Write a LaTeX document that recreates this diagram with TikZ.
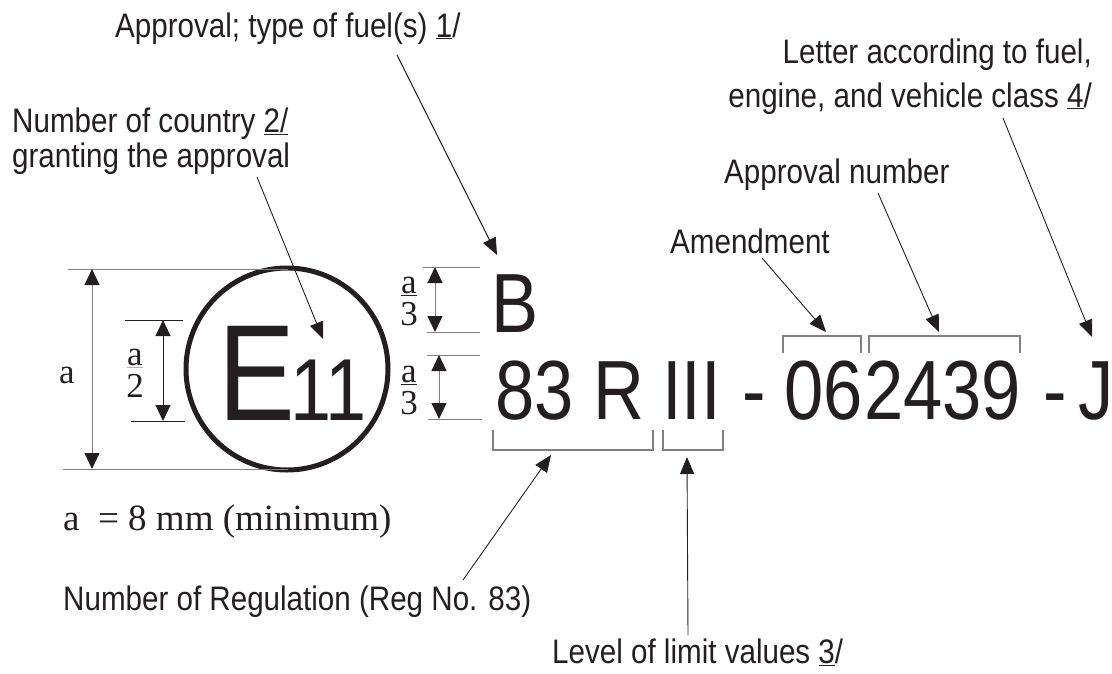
\documentclass[tikz,border=0pt]{standalone}
\usepackage{fontspec}
\usepackage{xcolor}
\setmainfont{Liberation Sans}[FakeStretch=0.87]
\newfontfamily\markfont{Liberation Sans}[FakeStretch=0.84]
\newfontfamily\dimfont{Liberation Serif}
\usetikzlibrary{arrows.meta}

\definecolor{ink}{HTML}{231F20}
\definecolor{rulegray}{HTML}{808080}
\newcommand{\lblfont}{\fontsize{34}{35}\selectfont}
\newcommand{\dimfrac}[2]{\begin{tabular}{@{}c@{}}#1\\#2\end{tabular}}

\begin{document}
\begin{tikzpicture}[x=1pt, y=-1pt,
	lbl/.style={inner sep=0pt, text=ink, font=\lblfont, anchor=base west},
	big/.style={inner sep=0pt, text=ink, font=\markfont\fontsize{84}{84}\selectfont, anchor=base west},
	dimtext/.style={inner sep=0pt, text=ink, font=\dimfont\fontsize{35}{32}\selectfont},
	leader/.style={draw=ink, line width=0.9pt, -{Triangle[length=17pt,width=14pt]}},
	dimline/.style={draw=rulegray, line width=1pt},
	dimarrow/.style={draw=rulegray, line width=1pt,
		{Triangle[length=16pt,width=15pt,color=ink]}-{Triangle[length=16pt,width=15pt,color=ink]}},
	bracket/.style={draw=rulegray, line width=1.2pt}]
	\useasboundingbox (0,0) rectangle (1112,673);

	% labels
	\node[lbl] at (115, 37) (fuel) {Approval; type of fuel(s) \underline{1}/};
	\node[lbl] at (12, 132) (country) {Number of country \underline{2/}};
	\node[lbl] at (12, 167) (country2) {granting the approval};
	\node[lbl, anchor=base east] at (1092, 63) (letter) {Letter according to fuel,};
	\node[lbl, anchor=base east] at (1092, 107) (letter2) {engine, and vehicle class \underline{4}/};
	\node[lbl] at (724, 183) (apprnum) {Approval number};
	\node[lbl] at (670, 253) (amend) {Amendment};
	\node[lbl] at (63, 610) (regnum) {Number of Regulation (Reg No. 83)};
	\node[lbl] at (552, 663) (level) {Level of limit values \underline{3}/};
	\node[dimtext, anchor=base west, font=\dimfont\fontsize{37}{37}\selectfont] at (63, 530) (amin) {a~ = 8 mm (minimum)};

	% the mark
	\draw[ink, line width=5pt] (287, 369) circle (101);
	\node[big, font=\markfont\fontsize{137}{137}\selectfont] at (218, 420) (E) {E};
	\node[big, font=\markfont\fontsize{88}{88}\selectfont] at (290, 420) (eleven) {11};
	\node[big] at (491, 332) (B) {B};
	\node[big] at (495, 419) (reg) {83 R};
	\node[big] at (662, 419) (III) {III};
	\node[big] at (742, 419) (dashA) {-};
	\node[big] at (784, 419) (amd) {06};
	\node[big] at (864, 419) (num) {2439};
	\node[big] at (1043, 419) (dashB) {-};
	\node[big] at (1078, 419) (J) {J};

	% dimensions
	\draw[dimline] (68, 269) -- (288, 269);
	\draw[dimline] (63, 469) -- (288, 469);
	\draw[dimarrow] (92, 269) -- (92, 469);
	\node[dimtext, anchor=base] at (67, 383) (a) {a};
	\draw[ink, line width=0.9pt] (125, 320) -- (183, 320);
	\draw[ink, line width=0.9pt] (131, 421) -- (185, 421);
	\draw[dimarrow, draw=ink] (163, 320) -- (163, 421);
	\node[dimtext] at (135, 375) (ahalf) {\dimfrac{\textcolor{black!30}{\underline{\textcolor{ink}{a}}}}{2}};
	\draw[dimline] (423, 267) -- (480, 267);
	\draw[dimline] (427, 332) -- (480, 332);
	\draw[dimarrow] (435, 267) -- (435, 332);
	\node[dimtext] at (409, 303) (athirdB) {\dimfrac{\underline{a}}{3}};
	\draw[dimline] (427, 355) -- (480, 355);
	\draw[dimline] (428, 419) -- (482, 419);
	\draw[dimarrow] (439, 355) -- (439, 419);
	\node[dimtext] at (409, 392) (athirdR) {\dimfrac{\underline{a}}{3}};

	% brackets
	\draw[bracket] (493, 430) -- (493, 450) -- (653, 450) -- (653, 430);
	\draw[bracket] (663, 430) -- (663, 450) -- (723, 450) -- (723, 430);
	\draw[bracket] (783, 353) -- (783, 336) -- (861, 336) -- (861, 353);
	\draw[bracket] (869, 353) -- (869, 336) -- (1020, 336) -- (1020, 353);

	% leader ends
	\coordinate (fuelTail) at (397, 55);
	\coordinate (fuelTip) at (497, 255);
	\coordinate (countryTail) at (257, 177);
	\coordinate (countryTip) at (323, 339);
	\coordinate (amendTail) at (762, 258);
	\coordinate (amendTip) at (826, 332);
	\coordinate (apprnumTail) at (878, 193);
	\coordinate (apprnumTip) at (939, 332);
	\coordinate (letterTail) at (1003, 118);
	\coordinate (letterTip) at (1092, 337);
	\coordinate (regnumTail) at (463, 580);
	\coordinate (regnumTip) at (551, 455);
	\coordinate (levelTail) at (688, 635);
	\coordinate (levelTip) at (687, 457);

	\draw[leader] (fuelTail) -- (fuelTip);
	\draw[leader] (countryTail) -- (countryTip);
	\draw[leader] (amendTail) -- (amendTip);
	\draw[leader] (apprnumTail) -- (apprnumTip);
	\draw[leader] (letterTail) -- (letterTip);
	\draw[leader] (regnumTail) -- (regnumTip);
	\draw[leader] (levelTail) -- (levelTip);
\end{tikzpicture}
\end{document}
